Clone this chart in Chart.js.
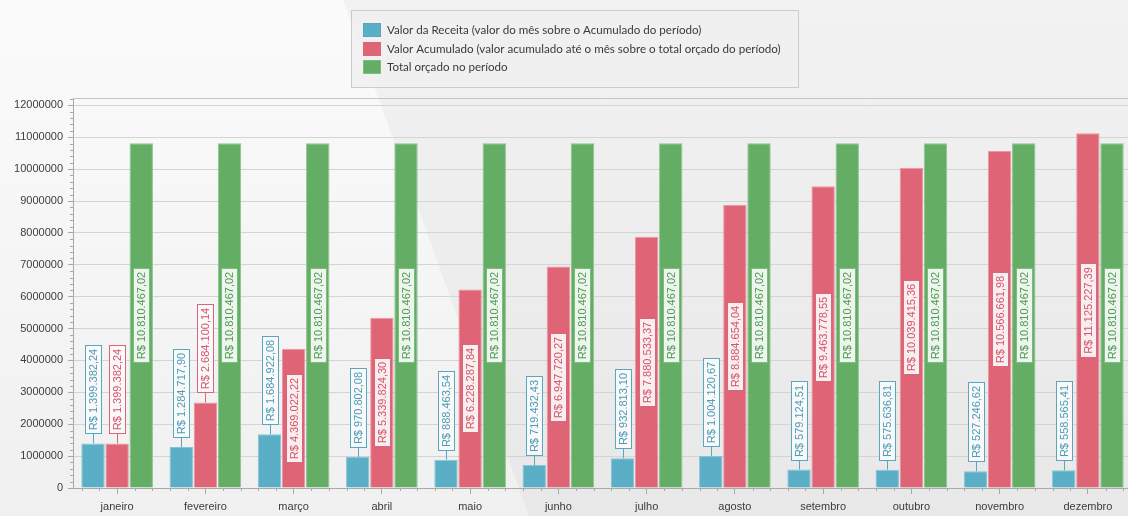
<!DOCTYPE html>
<html>
<head>
<meta charset="utf-8">
<script src="https://cdn.jsdelivr.net/npm/chart.js@4.4.1/dist/chart.umd.min.js"></script>
<style>
    html, body { margin: 0; padding: 0; overflow: hidden; background: #f4f4f4; }
    #wrap { position: relative; width: 1132px; height: 516px; }
</style>
</head>
<body>
<div id="wrap"><canvas id="graph"></canvas></div>
<script>
const meses = ['janeiro', 'fevereiro', 'março', 'abril', 'maio', 'junho',
    'julho', 'agosto', 'setembro', 'outubro', 'novembro', 'dezembro'];

const valorReceita = [1399382.24, 1284717.90, 1684922.08, 970802.08, 888463.54, 719432.43,
    932813.10, 1004120.67, 579124.51, 575636.81, 527246.62, 558565.41];

const valorAcumulado = [1399382.24, 2684100.14, 4369022.22, 5339824.30, 6228287.84, 6947720.27,
    7880533.37, 8884654.04, 9463778.55, 10039415.36, 10566661.98, 11125227.39];

const totalOrcado = [10810467.02, 10810467.02, 10810467.02, 10810467.02, 10810467.02, 10810467.02,
    10810467.02, 10810467.02, 10810467.02, 10810467.02, 10810467.02, 10810467.02];

const nomesSeries = [
    'Valor da Receita (valor do mês sobre o Acumulado do período)',
    'Valor Acumulado (valor acumulado até o mês sobre o total orçado do período)',
    'Total orçado no período'
];

const yTicks = [0, 1000000, 2000000, 3000000, 4000000, 5000000, 6000000,
    7000000, 8000000, 9000000, 10000000, 11000000, 12000000];

const yMax = 12230000;
const yStep = 1000000;
const yMinorStep = 200000;

const FONT = '"Liberation Sans", Arial, sans-serif';
const cores = ['#5aaec6', '#de6476', '#63ad65'];
const bordas = ['#86c4d7', '#ec96a2', '#8cc48d'];
const coresTexto = ['#4b9cb6', '#d65468', '#4e9b51'];
const bordasRotulo = ['#5aa6be', '#d9677a', '#7dbb7f'];

// 1.399.382,24 style
function moeda(v) {
    const [int, dec] = v.toFixed(2).split('.');
    return 'R$ ' + int.replace(/\B(?=(\d{3})+(?!\d))/g, '.') + ',' + dec;
}

const fundo = {
    id: 'fundo',
    beforeDraw(chart) {
        const {ctx, width, height} = chart;
        ctx.save();
        let g = ctx.createLinearGradient(0, 0, 0, height);
        g.addColorStop(0, '#f2f2f2');
        g.addColorStop(1, '#e8e8e8');
        ctx.fillStyle = g;
        ctx.fillRect(0, 0, width, height);
        g = ctx.createLinearGradient(0, 0, 0, height);
        g.addColorStop(0, '#fbfbfb');
        g.addColorStop(1, '#f0f0f0');
        ctx.fillStyle = g;
        ctx.beginPath();
        ctx.moveTo(0, 0);
        ctx.lineTo(343, 0);
        ctx.lineTo(529, height);
        ctx.lineTo(0, height);
        ctx.closePath();
        ctx.fill();
        ctx.restore();
    },
    beforeDatasetsDraw(chart) {
        const {ctx, chartArea, scales: {x, y}} = chart;
        ctx.save();
        ctx.strokeStyle = '#c4c4c4';
        ctx.lineWidth = 1;
        ctx.beginPath();
        ctx.moveTo(chartArea.left, Math.round(chartArea.top) + 0.5);
        ctx.lineTo(chartArea.right, Math.round(chartArea.top) + 0.5);
        ctx.stroke();

        // minor ticks
        ctx.strokeStyle = '#a8a8a8';
        ctx.beginPath();
        for (let v = 0; v <= yMax; v += yMinorStep) {
            if (v % yStep === 0) continue;
            const py = Math.round(y.getPixelForValue(v)) + 0.5;
            ctx.moveTo(chartArea.left - 3, py);
            ctx.lineTo(chartArea.left, py);
        }
        for (let i = -1; i < meses.length; i++) {
            for (let k = 1; k < 5; k++) {
                const px = Math.round(x.getPixelForValue(i + k / 5)) + 0.5;
                if (px < chartArea.left || px > chartArea.right) continue;
                ctx.moveTo(px, chartArea.bottom);
                ctx.lineTo(px, chartArea.bottom + 3);
            }
        }
        ctx.stroke();
        ctx.restore();
    }
};

const rotulos = {
    id: 'rotulos',
    afterDatasetsDraw(chart) {
        const ctx = chart.ctx;
        ctx.save();
        ctx.font = '11px ' + FONT;
        ctx.textAlign = 'center';
        ctx.textBaseline = 'middle';
        chart.data.datasets.forEach((ds, i) => {
            const meta = chart.getDatasetMeta(i);
            meta.data.forEach((bar, j) => {
                const texto = moeda(ds.data[j]);
                const comp = ctx.measureText(texto).width + 8;
                const larg = 17;
                const altura = bar.base - bar.y;
                const cx = Math.round(bar.x);
                let baixo;
                if (altura > comp + 12) {
                    baixo = Math.round((bar.y + bar.base) / 2 + comp / 2);
                } else {
                    baixo = Math.round(bar.y - 9);
                    ctx.strokeStyle = bordasRotulo[i];
                    ctx.lineWidth = 1;
                    ctx.beginPath();
                    ctx.moveTo(cx + 0.5, bar.y);
                    ctx.lineTo(cx + 0.5, baixo);
                    ctx.stroke();
                }
                const topo = Math.round(baixo - comp);
                ctx.fillStyle = 'rgba(250,250,250,0.92)';
                ctx.fillRect(cx - 8, topo, larg, baixo - topo);
                ctx.strokeStyle = bordasRotulo[i];
                ctx.strokeRect(cx - 8 + 0.5, topo + 0.5, larg - 1, baixo - topo - 1);
                ctx.save();
                ctx.translate(cx + 1, (topo + baixo) / 2);
                ctx.rotate(-Math.PI / 2);
                ctx.fillStyle = coresTexto[i];
                ctx.fillText(texto, 0, 0);
                ctx.restore();
            });
        });
        ctx.restore();
    }
};

const legenda = {
    id: 'legenda',
    afterDraw(chart) {
        const ctx = chart.ctx;
        ctx.save();
        ctx.fillStyle = 'rgba(240,240,240,0.85)';
        ctx.fillRect(351, 10, 447, 77);
        ctx.strokeStyle = '#cbcbcb';
        ctx.lineWidth = 1;
        ctx.strokeRect(351.5, 10.5, 447, 77);
        ctx.font = '11.6px Lato, ' + FONT;
        ctx.textBaseline = 'middle';
        nomesSeries.forEach((nome, i) => {
            const top = 23 + Math.round(i * 18.7);
            ctx.fillStyle = cores[i];
            ctx.fillRect(363, top, 18, 14);
            ctx.strokeStyle = bordasRotulo[i];
            ctx.strokeRect(363.5, top + 0.5, 17, 13);
            ctx.fillStyle = '#3a3a3a';
            ctx.fillText(nome, 387, top + 7.5);
        });
        ctx.restore();
    }
};

const ctx = document.querySelector('#graph').getContext('2d');

new Chart(ctx, {
    type: 'bar',
    data: {
        labels: meses,
        datasets: [valorReceita, valorAcumulado, totalOrcado].map((serie, i) => ({
            label: nomesSeries[i],
            data: serie,
            backgroundColor: cores[i],
            borderColor: bordas[i],
            borderWidth: 1,
            categoryPercentage: 0.82,
            barPercentage: 0.97
        }))
    },
    plugins: [fundo, rotulos, legenda],
    options: {
        responsive: true,
        maintainAspectRatio: false,
        animation: false,
        layout: {padding: {top: 98, right: 0, bottom: 0, left: 0}},
        plugins: {
            legend: {display: false},
            tooltip: {enabled: false}
        },
        scales: {
            x: {
                afterFit(scale) { scale.height = 28; },
                grid: {display: true, drawOnChartArea: false, offset: false, tickLength: 6, color: '#a8a8a8'},
                border: {color: '#a8a8a8'},
                ticks: {color: '#3c3c3c', font: {family: FONT, size: 11}, padding: 6, maxRotation: 0}
            },
            y: {
                min: 0,
                max: yMax,
                afterFit(scale) { scale.width = 73; },
                afterBuildTicks(scale) {
                    scale.ticks = yTicks.map(v => ({value: v}));
                },
                ticks: {color: '#3c3c3c', font: {family: FONT, size: 11}, padding: 5, callback: v => String(v)},
                grid: {color: '#d4d4d4', tickColor: '#a8a8a8', tickLength: 5},
                border: {color: '#a8a8a8'}
            }
        }
    }
});
</script>
</body>
</html>
